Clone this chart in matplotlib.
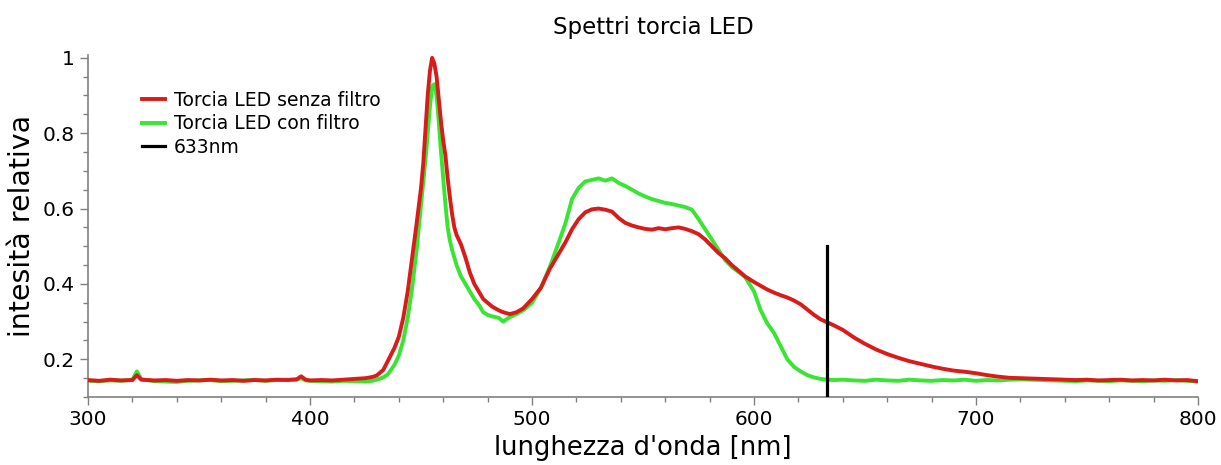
#spettri della torcia LED con e senza filtro

import numpy as np
import matplotlib
matplotlib.use('Agg')
import matplotlib.pyplot as plt
from matplotlib.ticker import MultipleLocator

#lunghezze d'onda [nm]
wl = [300, 305, 310, 315, 320, 322, 324, 330, 335, 340, 345, 350, 355, 360,
      365, 370, 375, 380, 385, 390, 394, 396, 398, 400, 405, 410, 415, 420,
      425, 428, 430, 433, 435, 438, 440, 442, 444, 446, 448, 450, 451, 452,
      453, 454, 455, 456, 457, 458, 459, 460, 461, 462, 463, 464, 465, 466,
      468, 470, 472, 474, 476, 478, 480, 482, 485, 487, 490, 493, 496, 500,
      504, 508, 512, 515, 518, 521, 524, 527, 530, 533, 536, 539, 542, 545,
      548, 551, 554, 557, 560, 563, 566, 569, 572, 575, 578, 581, 584, 587,
      590, 593, 596, 600, 603, 606, 609, 612, 615, 618, 621, 624, 627, 630,
      633, 636, 640, 645, 650, 655, 660, 665, 670, 675, 680, 685, 690, 695,
      700, 705, 710, 715, 720, 725, 730, 735, 740, 745, 750, 755, 760, 765,
      770, 775, 780, 785, 790, 795, 800]

#torcia senza filtro
senza = [.145, .143, .146, .144, .145, .158, .146, .144, .145, .143, .145, .144,
         .146, .144, .145, .143, .145, .144, .146, .145, .147, .155, .146, .144,
         .145, .144, .146, .148, .150, .153, .157, .172, .195, .230, .260, .310,
         .380, .470, .560, .655, .720, .810, .900, .965, 1.00, .985, .950, .890,
         .830, .780, .740, .680, .630, .585, .550, .530, .505, .470, .430, .400,
         .380, .360, .350, .340, .330, .325, .320, .325, .335, .360, .390, .440,
         .480, .510, .545, .572, .590, .598, .600, .597, .592, .575, .562, .555,
         .550, .546, .544, .548, .545, .548, .550, .546, .540, .532, .518, .500,
         .482, .468, .450, .435, .420, .405, .395, .385, .377, .370, .364, .356,
         .346, .332, .318, .306, .298, .290, .278, .258, .241, .226, .214, .204,
         .195, .188, .181, .175, .170, .167, .163, .158, .154, .151, .150, .149,
         .148, .147, .146, .145, .146, .144, .145, .146, .144, .145, .144, .146,
         .144, .145, .142]

#torcia con filtro
con = [.143, .142, .144, .143, .146, .168, .147, .142, .141, .140, .143, .144,
       .145, .142, .143, .144, .145, .143, .145, .146, .146, .150, .144, .143,
       .142, .141, .143, .142, .141, .143, .146, .152, .160, .185, .210, .250,
       .310, .390, .490, .610, .667, .730, .800, .870, .925, .930, .900, .830,
       .750, .680, .610, .550, .515, .490, .470, .450, .420, .400, .380, .360,
       .345, .325, .318, .314, .310, .300, .312, .320, .330, .350, .390, .445,
       .510, .560, .625, .655, .672, .676, .680, .674, .680, .668, .660, .650,
       .640, .632, .625, .620, .615, .612, .608, .604, .597, .572, .545, .518,
       .490, .463, .445, .432, .418, .380, .330, .295, .270, .235, .200, .180,
       .168, .158, .152, .148, .146, .145, .146, .144, .143, .146, .144, .143,
       .146, .144, .143, .145, .144, .146, .143, .145, .144, .146, .147, .146,
       .145, .144, .143, .142, .144, .143, .142, .144, .143, .142, .144, .143,
       .145, .143, .141]

#riga a 633 nm
riga_x = [633, 633]
riga_y = [0.1, 0.5]

fig = plt.figure(figsize=(12.21, 4.65), dpi=100)
ax = fig.add_axes([0.0721, 0.1462, 0.9091, 0.7355])

ax.plot(wl, senza, color='#d81c1c', lw=2.8, label='Torcia LED senza filtro', zorder=3)
ax.plot(wl, con, color='#3ae432', lw=2.8, label='Torcia LED con filtro', zorder=2)
ax.plot(riga_x, riga_y, color='black', lw=2.3, label='633nm', zorder=4)

ax.set_xlim(300, 800)
ax.set_ylim(0.1, 1.0074)
ax.xaxis.set_major_locator(MultipleLocator(100))
ax.xaxis.set_minor_locator(MultipleLocator(20))
ax.set_yticks([0.2, 0.4, 0.6, 0.8, 1.0])
ax.set_yticklabels(['0.2', '0.4', '0.6', '0.8', '1'])
ax.yaxis.set_minor_locator(MultipleLocator(0.05))

for s in ['top', 'right']:
    ax.spines[s].set_visible(False)
for s in ['left', 'bottom']:
    ax.spines[s].set_color('#808080')
    ax.spines[s].set_linewidth(1.2)
ax.tick_params(which='major', length=6, width=1, color='#808080', labelsize=14.5)
ax.tick_params(which='minor', length=3.5, width=1, color='#808080')

ax.set_xlabel("lunghezza d'onda [nm]", fontsize=18.5, labelpad=4)
ax.set_ylabel('intesità relativa', fontsize=20.5, labelpad=5)
fig.text(0.535, 0.94, 'Spettri torcia LED', fontsize=16.5, ha='center', va='center')

ax.legend(loc='upper left', bbox_to_anchor=(0.1163, 0.805), bbox_transform=fig.transFigure,
          frameon=False, fontsize=13.5, handlelength=1.2, handletextpad=0.5,
          labelspacing=0.25, borderpad=0, borderaxespad=0)

plt.savefig('out.png', dpi=100)
